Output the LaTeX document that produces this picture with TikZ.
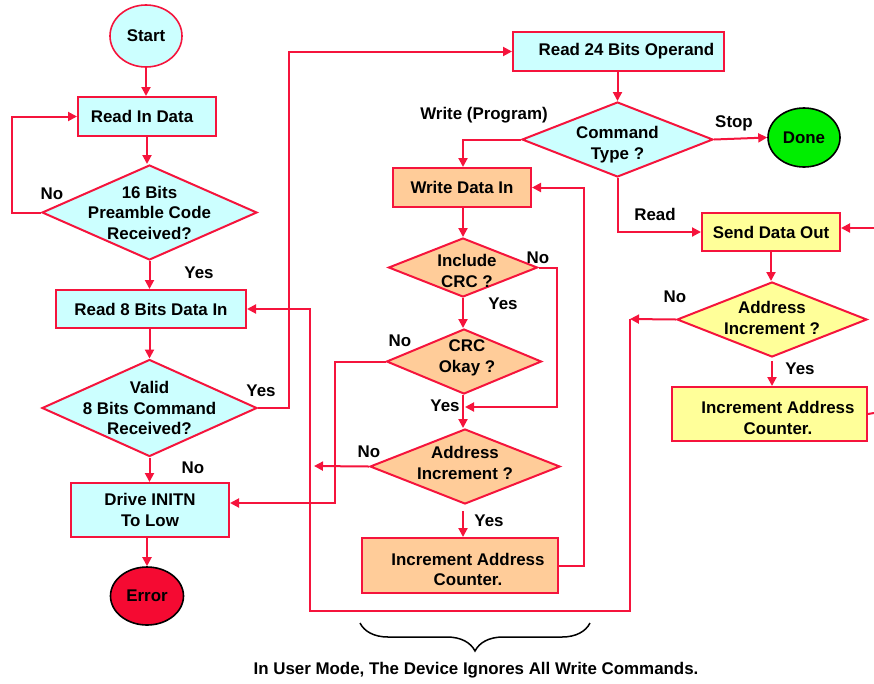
\documentclass[tikz,border=0pt]{standalone}
\usepackage{fontspec}
\setmainfont{Liberation Sans}
\usetikzlibrary{shapes.geometric,arrows.meta,decorations.pathreplacing}
\definecolor{lred}{HTML}{F5143C}
\definecolor{cyanf}{HTML}{CCFFFF}
\definecolor{orangef}{HTML}{FFCC99}
\definecolor{yellowf}{HTML}{FFFF99}
\definecolor{greenf}{HTML}{00EE00}
\definecolor{errf}{HTML}{F50A32}
\begin{document}
\begin{tikzpicture}[x=1pt,y=-1pt,
  font=\bfseries\fontsize{16.9}{20.5}\selectfont,
  line/.style={draw=lred, line width=2pt},
  arr/.style={line, -{Triangle[length=9pt,width=9pt]}},
  box/.style={draw=lred, line width=2pt, inner sep=0pt, align=center},
  dia/.style={diamond, draw=lred, line width=2pt, inner sep=0pt},
  oval/.style={ellipse, line width=1.6pt, inner sep=0pt},
  txt/.style={inner sep=0pt}]
\useasboundingbox (0,0) rectangle (874,683);

% left column
\node[oval, draw=lred, fill=cyanf, minimum width=72pt, minimum height=62pt] (start) at (146,36) {Start};
\node[box, fill=cyanf, minimum width=138pt, minimum height=39pt,
  label={[txt, xshift=-5pt]center:Read In Data}] (rin) at (147,116.5) {};
\node[dia, fill=cyanf, minimum width=215pt, minimum height=95pt,
  label={[txt, align=center]center:16 Bits\\Preamble Code\\Received?}] (d16) at (149.5,212.5) {};
\node[box, fill=cyanf, minimum width=190pt, minimum height=38pt] (r8) at (151,309) {Read 8 Bits Data In};
\node[dia, fill=cyanf, minimum width=215pt, minimum height=97pt,
  label={[txt, align=center]center:Valid\\8 Bits Command\\Received?}] (dvalid) at (149.5,408) {};
\node[box, fill=cyanf, minimum width=158pt, minimum height=54pt] (drive) at (150,510) {Drive INITN\\To Low};
\node[oval, draw=black, fill=errf, minimum width=73pt, minimum height=58pt] (err) at (147,596) {Error};

% middle column
\node[box, fill=cyanf, minimum width=211pt, minimum height=39pt,
  label={[txt, xshift=8pt]center:Read 24 Bits Operand}] (r24) at (618.5,51.5) {};
\node[dia, fill=cyanf, minimum width=191pt, minimum height=75pt,
  label={[txt, align=center, yshift=-5pt]center:Command\\Type ?}] (dcmd) at (617.5,139.5) {};
\node[oval, draw=black, fill=greenf, minimum width=72pt, minimum height=59pt] (done) at (804,137.5) {Done};
\node[box, fill=orangef, minimum width=138pt, minimum height=39pt] (wdi) at (462,187.5) {Write Data In};
\node[dia, fill=orangef, minimum width=149pt, minimum height=59pt,
  label={[txt, align=center, xshift=4pt, yshift=-3.5pt]center:Include\\CRC ?}] (dinc) at (463,267.5) {};
\node[dia, fill=orangef, minimum width=155pt, minimum height=65pt,
  label={[txt, align=center, xshift=3pt, yshift=3.5pt]center:CRC\\Okay ?}] (dcrc) at (464,361.5) {};
\node[dia, fill=orangef, minimum width=190pt, minimum height=75pt,
  label={[txt, align=center, yshift=3.5pt]center:Address\\Increment ?}] (daddr) at (465,466.5) {};
\node[box, fill=orangef, minimum width=196pt, minimum height=55pt,
  label={[txt, align=center, xshift=8pt, yshift=-4pt]center:Increment Address\\Counter.}] (iac) at (460,565.5) {};

% right column
\node[box, fill=yellowf, minimum width=138pt, minimum height=38pt] (sdo) at (771,232) {Send Data Out};
\node[dia, fill=yellowf, minimum width=190pt, minimum height=75pt,
  label={[txt, align=center, yshift=1.5pt]center:Address\\Increment ?}] (dyaddr) at (772,319.5) {};
\node[box, fill=yellowf, minimum width=195pt, minimum height=54pt,
  label={[txt, align=center, xshift=8.5pt, yshift=-4pt]center:Increment Address\\Counter.}] (yiac) at (769.5,414) {};

% helper coordinates
\coordinate (jn) at (465,407);
\coordinate (cy) at (630,319);
\coordinate (mo) at (314,466);
\coordinate (ein) at (874,228);
\coordinate (eout) at (874,413);

% connectors
\draw[arr] (start.south) -- (start.south |- rin.north);
\draw[arr] (rin.south) -- (rin.south |- d16.north);
\draw[arr] (d16.west) -- ++(-29,0) |- (rin.west);
\draw[arr] (d16.south) -- (d16.south |- r8.north);
\draw[arr] (r8.south -| d16.south) -- (dvalid.north);
\draw[arr] (dvalid.east) -- ++(31,0) |- (r24.west);
\draw[arr] (dvalid.south) -- (dvalid.south |- drive.north);
\draw[arr] (err.north |- drive.south) -- (err.north);
\draw[arr] (r24.south -| dcmd.north) -- (dcmd.north);
\draw[arr] (dcmd.east) -- (done.west);
\draw[arr] (dcmd.west) -| (wdi.north -| dinc.north);
\draw[arr] (dcmd.south) |- (sdo.west);
\draw[arr] (wdi.south -| dinc.north) -- (dinc.north);
\draw[arr] (dinc.south) -- (dinc.south |- dcrc.north);
\draw[arr] (dinc.south |- dcrc.south) -- (dinc.south |- daddr.north);
\draw[arr] (dinc.east) -- ++(18,0) |- (jn);
\draw[arr] (dcrc.west) -- ++(-51,0) |- ([yshift=7pt]drive.east);
\draw[arr] (daddr.west) -- (mo);
\draw[arr] ([yshift=-6pt]daddr.south -| dinc.south) -- (dinc.south |- iac.north);
\draw[arr] (iac.east) -- ++(25,0) |- (wdi.east);
\draw[arr] (cy) -- (630,611) -- (310,611) |- (r8.east);
\draw[arr] (dyaddr.west) -- (cy);
\draw[arr] (sdo.south) -- (sdo.south |- dyaddr.north);
\draw[arr] ([yshift=-3pt]dyaddr.south) -- (dyaddr.south |- yiac.north);
\draw[line] (yiac.east) -- (eout);
\draw[arr] (ein) -- (ein -| sdo.east);

% labels
\node[txt] (l1) at (52,194) {No};
\node[txt] (l2) at (199,273) {Yes};
\node[txt] (l3) at (261,391) {Yes};
\node[txt] (l4) at (193,468) {No};
\node[txt] (l5) at (484,115) {Write (Program)};
\node[txt] (l6) at (734,123) {Stop};
\node[txt] (l7) at (655,214) {Read};
\node[txt] (l8) at (538,258) {No};
\node[txt] (l9) at (503,304) {Yes};
\node[txt] (l10) at (400,341) {No};
\node[txt] (l11) at (445,406) {Yes};
\node[txt] (l12) at (369,452) {No};
\node[txt] (l13) at (489,521) {Yes};
\node[txt] (l14) at (675,297) {No};
\node[txt] (l15) at (800,369) {Yes};

% brace and note
\coordinate (bl) at (360,623);
\coordinate (br) at (590,623);
\draw[decorate, decoration={brace, mirror, amplitude=28pt}, line width=1.5pt] (bl) -- (br);
\node[txt] (note) at (476,670) {In User Mode, The Device Ignores All Write Commands.};
\end{tikzpicture}
\end{document}
